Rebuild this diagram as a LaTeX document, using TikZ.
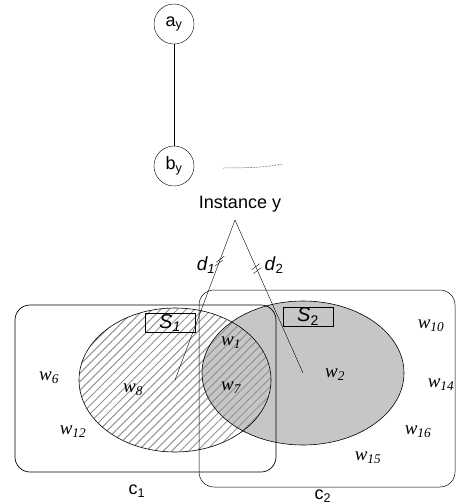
\documentclass[tikz,border=0pt]{standalone}
\usepackage{fontspec}
\setmainfont{Liberation Serif}
\setsansfont{Liberation Sans}
\usetikzlibrary{calc,patterns.meta}

\tikzset{
  vert/.style={draw, circle, minimum size=40pt, inner sep=0pt, font=\sffamily\fontsize{18}{20}\selectfont},
  lab/.style={font=\sffamily\fontsize{18}{20}\selectfont},
  dlab/.style={font=\sffamily\itshape\fontsize{19}{21}\selectfont},
  wlab/.style={font=\itshape\fontsize{19}{21}\selectfont},
  setbox/.style={draw, minimum width=50pt, minimum height=19pt, inner sep=0pt, font=\sffamily\itshape\fontsize{20}{22}\selectfont},
}

\begin{document}
\begin{tikzpicture}[x=1pt,y=-1pt]
\useasboundingbox (0,0) rectangle (457,504);
% the instance graph
\node[vert] (ay) at (174,24) {a\textsubscript{y}};
\node[vert] (by) at (174,166) {b\textsubscript{y}};
\draw (ay) -- (by);
\draw[densely dotted, line width=0.5pt] (223,168) .. controls (250,168) and (270,167) .. (282,164);
\node[lab] (inst) at (240,204) {Instance y};
\coordinate (apex) at (235,220);
% the two sets
\coordinate (s1c) at (175,380);
\coordinate (s2c) at (303,373);
\fill[gray!45] (s2c) ellipse [x radius=101, y radius=72];
\fill[pattern={Lines[angle=45,distance=6pt,line width=1pt]}, pattern color=gray!85] (s1c) ellipse [x radius=96, y radius=72];
\draw[line width=0.6pt] (s2c) ellipse [x radius=101, y radius=72];
\draw[line width=0.6pt] (s1c) ellipse [x radius=96, y radius=72];
\node[setbox] (s1) at (170,323) {S\textsubscript{1}};
\node[setbox, font=\sffamily\fontsize{20}{22}\selectfont] (s2) at (308,316.5) {\textit{S}\textsubscript{2}};
% the classes
\draw[rounded corners=15pt, line width=0.7pt] (15,305) rectangle (276,472);
\draw[rounded corners=15pt, line width=0.5pt] (199,290) rectangle (455,487);
\node[lab] (c1) at (137,491) {c\textsubscript{1}};
\node[lab] (c2) at (323,496) {c\textsubscript{2}};
% distances
\draw (apex) -- (s1c);
\draw (apex) -- (s2c);
\foreach \p in {0.245,0.27}
  \draw ($(apex)!\p!(s1c)$) ++(-4,3) -- ++(8,-6);
\foreach \p in {0.305,0.33}
  \draw ($(apex)!\p!(s2c)$) ++(-4,3) -- ++(8,-6);
\node[dlab] (d1) at (206,265) {d\textsubscript{1}};
\node[dlab, font=\sffamily\fontsize{19}{21}\selectfont] (d2) at (274,265) {\textit{d}\textsubscript{2}};
% instances
\node[wlab] (w1) at (231,343) {w\textsubscript{1}};
\node[wlab] (w7) at (231,388) {w\textsubscript{7}};
\node[wlab] (w2) at (335,375) {w\textsubscript{2}};
\node[wlab] (w8) at (133,390) {w\textsubscript{8}};
\node[wlab] (w6) at (49,378) {w\textsubscript{6}};
\node[wlab] (w12) at (73,432) {w\textsubscript{12}};
\node[wlab] (w10) at (431,326) {w\textsubscript{10}};
\node[wlab] (w14) at (441,385) {w\textsubscript{14}};
\node[wlab] (w16) at (418,432) {w\textsubscript{16}};
\node[wlab] (w15) at (368,458) {w\textsubscript{15}};
\end{tikzpicture}
\end{document}
